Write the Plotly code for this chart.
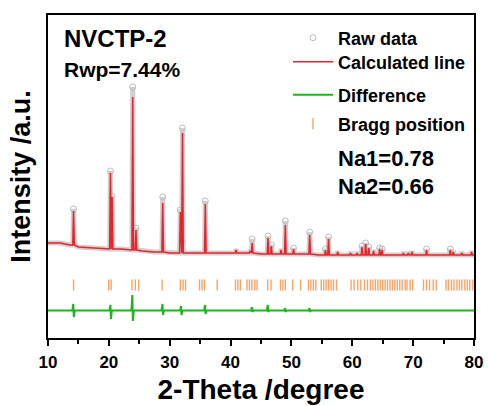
import plotly.graph_objects as go

# ---------------- data ----------------
# background of the pattern (2-theta, intensity in arbitrary plot units)
bg_x = [10, 12, 13.6, 15, 17.5, 19.6, 22, 23.3, 25.5, 27.5, 30, 31.2, 34, 37, 39.5,
        42, 45, 47.8, 51.5, 54.5, 58.5, 66.5, 71, 74, 77, 80]
bg_y = [95, 95, 93, 91, 90, 89, 89, 88, 87, 86, 85, 85, 85, 85, 85,
        85, 84, 84, 84, 83, 83, 83, 83, 83, 83, 83]

# peaks: position, calculated top, observed top, local background
pk_pos = [14.2, 20.26, 20.53, 23.92, 24.45, 28.85, 31.75, 32.1, 35.85, 40.9, 43.2, 43.55,
          46.15, 46.7, 48.3, 49.0, 50.35, 53.0, 55.6, 56.1, 57.6, 59.7, 60.8, 61.6, 62.2,
          62.7, 63.5, 64.5, 64.9, 68.4, 69.2, 69.8, 72.2, 76.1, 76.6, 78.0, 79.6]
pk_calc = [127, 165, 141, 241, 108, 135, 126, 205, 134, 88, 87, 95,
           100, 92, 88, 113, 89, 103, 88, 99, 86, 85, 85, 91, 94,
           90, 87, 89, 88, 85, 85, 86, 88, 88, 86, 85, 86]
pk_obs = [129, 167, 142, 251, 110, 141, 128, 210, 137, 89, 88, 99,
          102, 93, 89, 117, 90, 106, 89, 101, 87, 86, 86, 92, 95,
          91, 88, 90, 89, 86, 86, 87, 89, 89, 87, 86, 87]
pk_base = [93, 89, 89, 88, 88, 86, 85, 85, 85, 85, 85, 85,
           84, 84, 84, 84, 84, 84, 83, 83, 83, 83, 83, 83, 83,
           83, 83, 83, 83, 83, 83, 83, 83, 83, 83, 83, 83]

# difference curve: level and spikes
dif_level = 27.5
dif_pos = [14.2, 20.3, 23.9, 28.85, 31.9, 35.85, 43.55, 46.15, 49.0, 53.0]
dif_up = [34, 33, 43, 34, 32, 33, 31, 33, 30, 30]
dif_dn = [21, 19, 17, 23, 23, 24, 26, 26, 26, 26]

# Bragg reflection positions
bragg_pos = [14.2, 19.98, 20.37, 23.8, 24.35, 24.9, 28.75, 31.75, 32.2, 32.6, 34.9, 35.3,
             35.7, 37.8, 40.8, 41.2, 41.6, 42.7, 43.1, 43.5, 44.0, 44.35, 46.1, 46.65,
             48.2, 48.6, 49.0, 50.2, 51.5, 52.8, 53.2, 53.6, 54.0, 54.9, 55.3, 55.7,
             56.1, 56.5, 56.9, 57.4, 59.8, 60.3, 60.9, 61.4, 62.0, 62.5, 63.0, 63.4,
             63.8, 64.2, 64.6, 65.0, 65.4, 65.8, 66.2, 66.6, 67.0, 67.4, 67.8, 68.2,
             68.7, 69.0, 69.5, 69.9, 71.7, 72.2, 72.7, 73.3, 73.8, 75.4, 75.8, 76.3,
             76.7, 77.2, 77.6, 78.0, 78.5, 78.9, 79.3, 79.8]
bragg_level = 53

x_ticks = [10, 20, 30, 40, 50, 60, 70, 80]

# ---------------- build polylines from the read values ----------------
W = 0.13


def profile(tops):
    pts = list(zip(bg_x, bg_y))
    n = len(pk_pos)
    for i in range(n):
        p = pk_pos[i]
        lo = p - W
        hi = p + W
        if i > 0:
            lo = max(lo, (p + pk_pos[i - 1]) / 2 + 0.01)
        if i < n - 1:
            hi = min(hi, (p + pk_pos[i + 1]) / 2 - 0.01)
        pts += [(lo, pk_base[i]), (p, tops[i]), (hi, pk_base[i])]
    pts.sort()
    return [a for a, _ in pts], [b for _, b in pts]


calc_x, calc_y = profile(pk_calc)
obs_x, obs_y = profile(pk_obs)

dpts = [(10, dif_level), (80, dif_level)]
for p, u, d in zip(dif_pos, dif_up, dif_dn):
    dpts += [(p - 0.2, dif_level), (p - 0.04, u), (p + 0.04, d), (p + 0.2, dif_level)]
dpts.sort()
dif_x = [a for a, _ in dpts]
dif_y = [b for _, b in dpts]

RED = "#e8232b"
GREEN = "#1fb521"
ORANGE = "#f6a566"
GREY = "#bdbdbd"
FONT = "Liberation Sans, Arial, sans-serif"

fig = go.Figure()

# raw data: grey band of overlapping circles, visible circles at peak tops
fig.add_trace(go.Scatter(x=obs_x, y=obs_y, mode="lines",
                         line=dict(color="rgba(170,170,170,0.55)", width=5),
                         showlegend=False, hoverinfo="skip"))
big = [i for i in range(len(pk_pos)) if pk_obs[i] - pk_base[i] > 5]
fig.add_trace(go.Scatter(x=[pk_pos[i] for i in big], y=[pk_obs[i] for i in big],
                         mode="markers", name="Raw data",
                         marker=dict(symbol="circle-open", size=6, color=GREY, line=dict(width=1)),
                         legend="legend"))
fig.add_trace(go.Scatter(x=calc_x, y=calc_y, mode="lines", name="Calculated line",
                         line=dict(color=RED, width=1.5), legend="legend2"))
fig.add_trace(go.Scatter(x=dif_x, y=dif_y, mode="lines", name="Difference",
                         line=dict(color=GREEN, width=2), legend="legend3"))
fig.add_trace(go.Scatter(x=bragg_pos, y=[bragg_level] * len(bragg_pos), mode="markers",
                         name="Bragg position",
                         marker=dict(symbol="line-ns", size=8, color=ORANGE,
                                     line=dict(color=ORANGE, width=1.4)),
                         legend="legend4"))

# plot area: x 48..474, y 15..338 (px)
def py(pix):
    return (338 - pix) / 323


def px(pix):
    return (pix - 48) / 426


leg_font = dict(family=FONT, size=18, color="black", weight="bold")
common = dict(xanchor="left", yanchor="middle", bgcolor="rgba(0,0,0,0)",
              font=leg_font, itemwidth=40)

fig.update_layout(
    width=488, height=406,
    margin=dict(l=48, r=14, t=15, b=68, autoexpand=False),
    paper_bgcolor="white", plot_bgcolor="white",
    font=dict(family=FONT, color="black"),
    legend=dict(x=px(288), y=py(38), **common),
    legend2=dict(x=px(288), y=py(62), **common),
    legend3=dict(x=px(288), y=py(95), **common),
    legend4=dict(x=px(288), y=py(124), **common),
    xaxis=dict(range=[10, 80], tickvals=x_ticks, ticks="outside", ticklen=6, tickwidth=2,
               tickcolor="black", showline=True, linewidth=2, linecolor="black", mirror=True,
               showgrid=False, zeroline=False, ticklabelstandoff=2,
               minor=dict(dtick=5, ticks="outside", ticklen=4, tickwidth=2, tickcolor="black"),
               tickfont=dict(family=FONT, size=17, color="black", weight="bold"),
               title=dict(text="2-Theta /degree", standoff=8,
                          font=dict(family=FONT, size=28, color="black", weight="bold"))),
    yaxis=dict(range=[0, 323], showticklabels=False, ticks="", showline=True, linewidth=2,
               linecolor="black", mirror=True, showgrid=False, zeroline=False,
               title=dict(text="Intensity /a.u.", standoff=8,
                          font=dict(family=FONT, size=27, color="black", weight="bold"))),
)

ann = [
    ("NVCTP-2", 62, 38, 24),
    ("Rwp=7.44%", 62, 69, 21),
    ("Na1=0.78", 336, 158, 22),
    ("Na2=0.66", 336, 187, 22),
]
for t, x0, y0, s in ann:
    fig.add_annotation(text=t, x=px(x0), y=py(y0), xref="paper", yref="paper",
                       xanchor="left", yanchor="middle", showarrow=False,
                       font=dict(family=FONT, size=s, color="black", weight="bold"))

fig.write_html("out.html")
